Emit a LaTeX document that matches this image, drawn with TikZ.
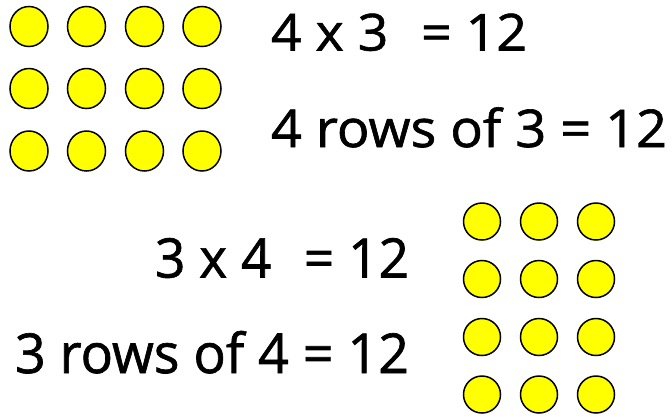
\documentclass[tikz,border=0pt]{standalone}
\usepackage{fontspec}
\setmainfont{Open Sans}[FakeBold=1.2]
\usepackage{graphicx}
\usetikzlibrary{shapes.geometric}
\definecolor{dotyellow}{RGB}{255,255,0}
\begin{document}
\begin{tikzpicture}[x=1pt,y=-1pt,
  dotA/.style={ellipse,draw=black,fill=dotyellow,line width=1.5pt,inner sep=0pt,minimum width=38pt,minimum height=40pt},
  dotB/.style={circle,draw=black,fill=dotyellow,line width=1.5pt,inner sep=0pt,minimum size=37pt},
  eqtext/.style={anchor=base west,inner sep=0pt,outer sep=0pt}]
\useasboundingbox (0,0) rectangle (672,416);
% top grid: 4 columns x 3 rows
\foreach \c/\x in {1/29,2/86.5,3/144.5,4/202}{
  \foreach \r/\y in {1/26.5,2/88.5,3/151}{
    \node[dotA] (t\r\c) at (\x,\y) {};
  }
}
% bottom grid: 3 columns x 4 rows
\foreach \c/\x in {1/482,2/539,3/596}{
  \foreach \r/\y in {1/221.5,2/279,3/337,4/394.5}{
    \node[dotB] (b\r\c) at (\x,\y) {};
  }
}
% texts
\node[eqtext] (e1) at (271,50.5) {\resizebox{256pt}{\height}{\fontsize{51}{51}\selectfont 4 x 3\hspace{0.35em} = 12}};
\node[eqtext] (e2) at (271,147) {\resizebox{396pt}{\height}{\fontsize{52}{52}\selectfont 4 rows of 3 = 12}};
\node[eqtext] (e3) at (155,277.5) {\resizebox{254pt}{\height}{\fontsize{54.5}{54.5}\selectfont 3 x 4\hspace{0.35em} = 12}};
\node[eqtext] (e4) at (15,373) {\resizebox{394pt}{\height}{\fontsize{55}{55}\selectfont 3 rows of 4 = 12}};
\end{tikzpicture}
\end{document}
